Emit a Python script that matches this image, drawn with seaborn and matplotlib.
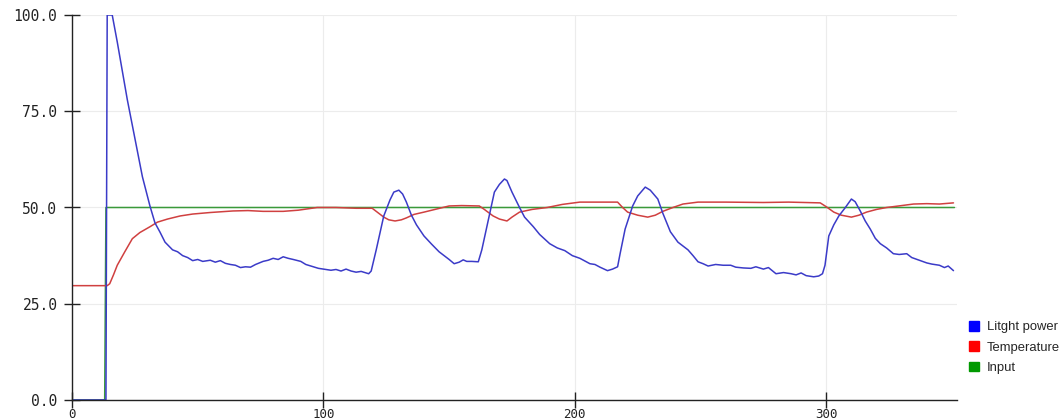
import numpy as np
import pandas as pd
import matplotlib
matplotlib.use("Agg")
import matplotlib.pyplot as plt
import seaborn as sns
from matplotlib.patches import Patch

# --- data ---
light_x = [0, 13.5, 14, 16, 18, 22, 25, 28, 31, 33, 35, 37, 40, 42, 44, 46, 48, 50, 52, 55, 57, 59,
           61, 63, 65, 67, 69, 71, 73, 76, 78, 80, 82, 84, 86, 88, 91, 93, 96, 98, 100, 103, 105,
           107, 109, 111, 113, 115, 118, 119, 121, 124, 126.5, 128, 130, 131.5, 133, 135, 137, 140,
           143, 146, 148, 150, 152, 154, 155.6, 157, 159, 161.6, 163, 165, 168, 170, 172, 173, 175,
           178, 180, 183.5, 186, 190, 193, 196, 199, 202, 206, 208, 210, 213, 215, 217, 218, 220,
           223, 225, 228, 230, 233, 235, 238, 241, 245, 247, 249, 251, 253, 256, 259, 262, 264, 267,
           270, 272, 275, 277, 280, 283, 286, 288, 290, 292, 295, 297, 298.5, 299.5, 301, 303, 305,
           307.6, 310, 311.5, 313.6, 315.5, 317.5, 319.5, 321.5, 324, 326.7, 329, 332, 334, 337.5,
           340, 342, 345, 347, 348.5, 350.6]
light_y = [0, 0, 100, 100, 93, 78, 68, 58, 50.4, 46, 43.6, 41, 39, 38.5, 37.5, 37, 36.2, 36.5, 36,
           36.3, 35.8, 36.2, 35.5, 35.2, 35, 34.4, 34.6, 34.5, 35.2, 36, 36.3, 36.8, 36.5, 37.2,
           36.8, 36.5, 36, 35.2, 34.6, 34.2, 34, 33.7, 33.9, 33.5, 34, 33.5, 33.2, 33.4, 32.8, 33.5,
           39, 47.8, 52, 54, 54.5, 53.5, 51.4, 48, 45.5, 42.6, 40.5, 38.5, 37.5, 36.5, 35.4, 35.8,
           36.4, 36, 36, 35.9, 39, 45, 54, 56, 57.4, 57, 54, 50, 47.5, 45, 43, 40.6, 39.5, 38.8,
           37.5, 36.8, 35.4, 35.2, 34.5, 33.6, 34, 34.6, 38, 44.4, 50.4, 53, 55.3, 54.5, 52.2, 48.5,
           43.7, 41, 39, 37.5, 35.9, 35.4, 34.8, 35.2, 35, 35, 34.5, 34.3, 34.2, 34.6, 34, 34.4,
           32.8, 33.1, 32.8, 32.5, 33, 32.3, 32, 32.2, 32.8, 35, 42.6, 45.5, 47.8, 50, 52.2, 51.5,
           49, 46.5, 44.4, 42, 40.6, 39.5, 38, 37.8, 38, 37, 36.2, 35.6, 35.3, 35, 34.4, 34.8, 33.6]

temp_x = [0, 14, 15, 16.5, 18, 21, 24, 27, 31, 34, 38, 43, 48, 55, 64, 70, 76, 84, 90, 97.5, 105,
          113, 119.4, 121, 124, 126, 128.5, 131, 133, 136, 140, 145, 150, 155, 162, 164, 167.5,
          170, 173, 175, 178, 183, 189, 195, 202, 210, 217, 219, 221, 225, 229, 232, 235, 239,
          243, 249, 260, 275, 285, 297.6, 300, 303, 306, 310, 313, 316, 320, 324, 330, 334.7,
          340, 345, 350.6]
temp_y = [29.7, 29.7, 30.2, 32.5, 35, 38.5, 41.9, 43.5, 45, 46.2, 47, 47.8, 48.3, 48.7, 49.1,
          49.2, 49, 49, 49.3, 50, 50, 49.8, 49.8, 49, 47.5, 46.8, 46.5, 46.8, 47.3, 48.2, 48.8,
          49.6, 50.4, 50.5, 50.4, 49.5, 47.8, 47, 46.5, 47.5, 48.8, 49.5, 50, 50.8, 51.4, 51.4,
          51.4, 50, 48.8, 48, 47.5, 48, 49, 50, 50.9, 51.4, 51.4, 51.3, 51.4, 51.2, 50.2, 48.8,
          48, 47.5, 48, 48.8, 49.5, 50, 50.5, 50.9, 51, 50.9, 51.2]

input_x = [0, 13, 13.5, 351]
input_y = [0, 0, 50, 50]

labels = ["Litght power", "Temperature", "Input"]
line_colors = ["#3b3bc8", "#d04040", "#3a9a3a"]
legend_colors = ["#0000ff", "#ff0000", "#009900"]

df = pd.concat([
    pd.DataFrame({"x": input_x, "y": input_y, "series": labels[2]}),
    pd.DataFrame({"x": temp_x, "y": temp_y, "series": labels[1]}),
    pd.DataFrame({"x": light_x, "y": light_y, "series": labels[0]}),
])

sns.set_style("white")
fig = plt.figure(figsize=(10.64, 4.19), dpi=100)
# axes box: x 72..957 px, y 15..400 px (from top)
ax = fig.add_axes([72 / 1064, 19 / 419, 885 / 1064, 385 / 419])

palette = dict(zip(labels, line_colors))
sns.lineplot(data=df, x="x", y="y", hue="series", palette=palette, sort=False,
             estimator=None, linewidth=1.1, legend=False, ax=ax)

ax.set_xlim(0, 352)
ax.set_ylim(0, 100)
ax.set_xticks([0, 100, 200, 300])
ax.set_yticks([0, 25, 50, 75, 100])
ax.set_yticklabels(["0.0", "25.0", "50.0", "75.0", "100.0"])
ax.set_xlabel("")
ax.set_ylabel("")
ax.grid(True, color="#ececec", linewidth=0.8)
ax.set_axisbelow(True)
for s in ["top", "right"]:
    ax.spines[s].set_visible(False)
for s in ["left", "bottom"]:
    ax.spines[s].set_color("#222222")
    ax.spines[s].set_linewidth(1.0)
ax.tick_params(left=True, bottom=True, direction="inout", length=11, width=1,
               colors="#222222", labelsize=10.5)
ax.tick_params(axis="y", pad=5)
ax.tick_params(axis="x", pad=0, labelsize=9)
for lbl in ax.get_xticklabels() + ax.get_yticklabels():
    lbl.set_fontfamily("DejaVu Sans Mono")

handles = [Patch(facecolor=c, edgecolor=c) for c in legend_colors]
fig.legend(handles, labels, loc="upper left", bbox_to_anchor=(969 / 1064, 1 - 321 / 419),
           frameon=False, handlelength=0.75, handleheight=0.75,
           handletextpad=0.6, labelspacing=0.62, borderaxespad=0, borderpad=0,
           prop={"family": "Liberation Sans", "size": 9.4})

fig.savefig("out.png", dpi=100)
